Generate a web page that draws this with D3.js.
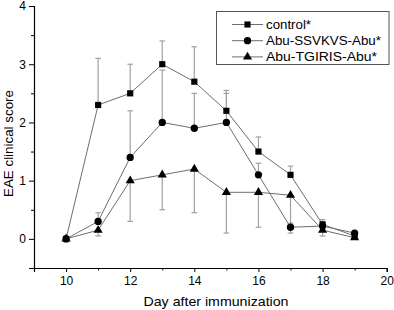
<!DOCTYPE html>
<html><head><meta charset="utf-8">
<script src="https://cdn.jsdelivr.net/npm/d3@7"></script>
<style>body{margin:0;background:#fff}svg{display:block}text{font-family:"Liberation Sans",Arial,sans-serif;fill:#000}</style>
</head><body>
<svg id="c" width="394" height="310"></svg>
<script>
const days = [10, 11, 12, 13, 14, 15, 16, 17, 18, 19];
const controlVals = [0, 2.3, 2.5, 3.0, 2.7, 2.2, 1.5, 1.1, 0.25, 0.05];
const controlErr  = [0, 0.8, 0.5, 0.4, 0.6, 0.35, 0.25, 0.15, 0.08, 0];
const ssvkvsVals  = [0, 0.3, 1.4, 2.0, 1.9, 2.0, 1.1, 0.2, 0.22, 0.1];
const ssvkvsErr   = [0, 0.15, 0.8, 0.9, 0.6, 0.5, 0.2, 0.07, 0.05, 0];
const tgirisVals  = [0, 0.15, 1.0, 1.1, 1.2, 0.8, 0.8, 0.75, 0.15, 0.02];
const tgirisErr   = [0, 0.1, 0.7, 0.6, 0.75, 0.7, 0.6, 0.65, 0.1, 0];
const seriesNames = ["control*", "Abu-SSVKVS-Abu*", "Abu-TGIRIS-Abu*"];
const xTicks = [10, 12, 14, 16, 18, 20];
const yTicks = [0, 1, 2, 3, 4];

const series = [
  {name: seriesNames[0], vals: controlVals, err: controlErr, dir: 1, sym: d3.symbolSquare},
  {name: seriesNames[1], vals: ssvkvsVals, err: ssvkvsErr, dir: 1, sym: d3.symbolCircle},
  {name: seriesNames[2], vals: tgirisVals, err: tgirisErr, dir: -1, sym: d3.symbolTriangle}
];

const svg = d3.select("#c");
const x = d3.scaleLinear().domain([9, 20]).range([34, 386.7]);
const y = d3.scaleLinear().domain([-0.5, 4]).range([268, 6]);

const lineCol = "#6e6e6e", errCol = "#a0a0a0";

// axes
const xAxis = svg.append("g").attr("transform", "translate(0,268)")
  .call(d3.axisBottom(x).tickValues(xTicks).tickSize(4).tickPadding(4).tickFormat(d3.format("d")));
const xMinor = svg.append("g").attr("transform", "translate(0,268)")
  .call(d3.axisBottom(x).tickValues([9, 11, 13, 15, 17, 19]).tickSize(2.5).tickFormat(""));
const yAxis = svg.append("g").attr("transform", "translate(34,0)")
  .call(d3.axisLeft(y).tickValues(yTicks).tickSize(5).tickPadding(3).tickFormat(d3.format("d")));
const yMinor = svg.append("g").attr("transform", "translate(34,0)")
  .call(d3.axisLeft(y).tickValues([-0.5, 0.5, 1.5, 2.5, 3.5]).tickSize(3).tickFormat(""));
[xAxis, xMinor, yAxis, yMinor].forEach(g => {
  g.select(".domain").attr("stroke", "#000").attr("stroke-width", 1.2);
  g.selectAll(".tick line").attr("stroke", "#000").attr("stroke-width", 1);
  g.selectAll("text").attr("font-size", 12).attr("font-family", "Liberation Sans, Arial, sans-serif").attr("fill", "#000");
});
xMinor.select(".domain").remove(); yMinor.select(".domain").remove();

svg.append("text").attr("x", 143.5).attr("y", 305.5)
  .attr("font-size", 13).attr("textLength", 145).attr("lengthAdjust", "spacingAndGlyphs").text("Day after immunization");
svg.append("text").attr("transform", "translate(8,197) rotate(-90)")
  .attr("dominant-baseline", "central").attr("font-size", 13)
  .attr("textLength", 107).attr("lengthAdjust", "spacingAndGlyphs").text("EAE clinical score");

const line = d3.line().x((d, i) => x(days[i])).y(d => y(d));

// lines
series.forEach(s => {
  svg.append("path").attr("d", line(s.vals)).attr("fill", "none").attr("stroke", lineCol).attr("stroke-width", 1);
});
// error bars
series.forEach(s => {
  const g = svg.append("g").attr("stroke", errCol).attr("stroke-width", 1.2);
  s.vals.forEach((v, i) => {
    if (!s.err[i]) return;
    const e = v + s.dir * s.err[i];
    const xx = x(days[i]);
    g.append("line").attr("x1", xx).attr("x2", xx).attr("y1", y(v)).attr("y2", y(e));
    g.append("line").attr("x1", xx - 2.8).attr("x2", xx + 2.8).attr("y1", y(e)).attr("y2", y(e));
  });
});
// markers
const sizes = [38, 42, 36];
series.forEach((s, k) => {
  const sym = d3.symbol().type(s.sym).size(sizes[k]);
  svg.append("g").selectAll("path").data(s.vals).join("path")
    .attr("transform", (d, i) => `translate(${x(days[i])},${y(d)})`)
    .attr("d", sym).attr("fill", "#000");
});

// legend
const legendWidths = [45, 115, 111];
const lg = svg.append("g");
lg.append("rect").attr("x", 216.5).attr("y", 11.5).attr("width", 172.5).attr("height", 53)
  .attr("fill", "#fff").attr("stroke", "#555").attr("stroke-width", 1);
series.forEach((s, k) => {
  const yy = 24.5 + k * 16.2;
  lg.append("line").attr("x1", 232).attr("x2", 263).attr("y1", yy).attr("y2", yy).attr("stroke", lineCol);
  lg.append("path").attr("transform", `translate(247.5,${yy})`).attr("d", d3.symbol().type(s.sym).size(sizes[k])()).attr("fill", "#000");
  lg.append("text").attr("x", 266).attr("y", yy).attr("dominant-baseline", "central").attr("font-size", 13)
    .attr("textLength", legendWidths[k]).attr("lengthAdjust", "spacingAndGlyphs").text(s.name);
});
</script>
</body></html>
